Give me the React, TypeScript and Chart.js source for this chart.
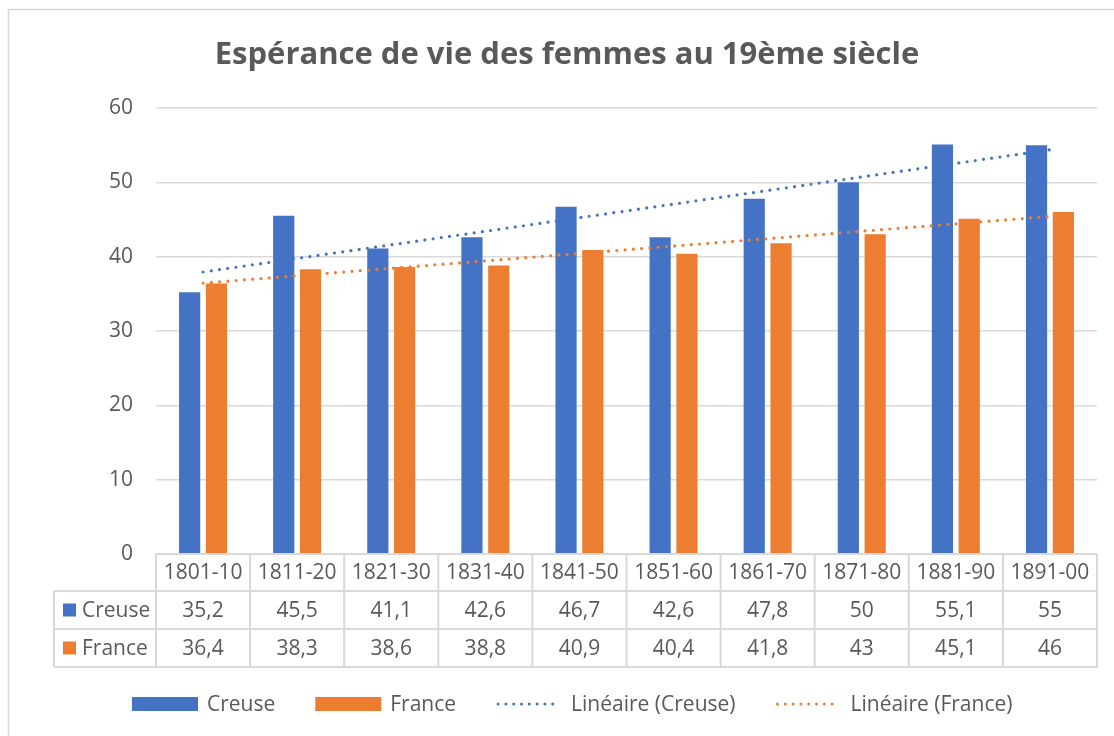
import React, { useEffect, useRef } from 'react';
import { Chart, registerables } from 'chart.js';

Chart.register(...registerables);

const titleText = 'Espérance de vie des femmes au 19ème siècle';
const categories = ['1801-10', '1811-20', '1821-30', '1831-40', '1841-50', '1851-60', '1861-70', '1871-80', '1881-90', '1891-00'];
const creuseValues = [35.2, 45.5, 41.1, 42.6, 46.7, 42.6, 47.8, 50, 55.1, 55];
const franceValues = [36.4, 38.3, 38.6, 38.8, 40.9, 40.4, 41.8, 43, 45.1, 46];
const seriesNames = ['Creuse', 'France'];
const trendNames = ['Linéaire (Creuse)', 'Linéaire (France)'];
const seriesColors = ['#4472C4', '#ED7D31'];
const yMin = 0;
const yMax = 60;
const yStep = 10;

const FONT = '"Open Sans", "Noto Sans", sans-serif';
const TEXT = '#595959';
const LINE = '#d9d9d9';

function linearTrend(values: number[]): number[] {
  const n = values.length;
  const xs = values.map((_, i) => i + 1);
  const mx = xs.reduce((a, b) => a + b, 0) / n;
  const my = values.reduce((a, b) => a + b, 0) / n;
  let sxy = 0;
  let sxx = 0;
  for (let i = 0; i < n; i++) {
    sxy += (xs[i] - mx) * (values[i] - my);
    sxx += (xs[i] - mx) * (xs[i] - mx);
  }
  const slope = sxy / sxx;
  const icpt = my - slope * mx;
  return xs.map((x) => icpt + slope * x);
}

const fmt = (v: number) => String(v).replace('.', ',');

const decorPlugin = {
  id: 'decor',
  afterDraw(chart: any) {
    const ctx = chart.ctx as CanvasRenderingContext2D;
    const area = chart.chartArea;
    const n = categories.length;
    const colW = (area.right - area.left) / n;
    const xScale = chart.scales.x;
    ctx.save();

    // outer border (top + left visible)
    ctx.strokeStyle = LINE;
    ctx.lineWidth = 1.5;
    ctx.beginPath();
    ctx.moveTo(8.5, 736);
    ctx.lineTo(8.5, 9.5);
    ctx.lineTo(1114, 9.5);
    ctx.stroke();

    // title
    ctx.fillStyle = TEXT;
    ctx.font = `bold 31px ${FONT}`;
    ctx.textAlign = 'center';
    ctx.textBaseline = 'alphabetic';
    ctx.fillText(titleText, 567, 64);

    // data table
    const top = area.bottom;
    const r1 = top + 37;
    const r2 = r1 + 38;
    const r3 = r2 + 38;
    const leftEdge = 54;
    ctx.strokeStyle = LINE;
    ctx.lineWidth = 2;
    ctx.beginPath();
    ctx.moveTo(area.left, top);
    ctx.lineTo(area.right, top);
    for (const y of [r1, r2, r3]) {
      ctx.moveTo(leftEdge, y);
      ctx.lineTo(area.right, y);
    }
    ctx.moveTo(leftEdge, r1);
    ctx.lineTo(leftEdge, r3);
    for (let i = 0; i <= n; i++) {
      const x = area.left + i * colW;
      ctx.moveTo(x, top);
      ctx.lineTo(x, r3);
    }
    ctx.stroke();

    ctx.font = `21px ${FONT}`;
    ctx.fillStyle = TEXT;
    ctx.textAlign = 'center';
    ctx.textBaseline = 'middle';
    const rowVals = [creuseValues, franceValues];
    for (let i = 0; i < n; i++) {
      const cx = xScale.getPixelForValue(i);
      ctx.fillText(categories[i], cx, (top + r1) / 2 + 1);
      ctx.fillText(fmt(rowVals[0][i]), cx, (r1 + r2) / 2 + 1);
      ctx.fillText(fmt(rowVals[1][i]), cx, (r2 + r3) / 2 + 1);
    }
    const rowsY = [(r1 + r2) / 2, (r2 + r3) / 2];
    ctx.textAlign = 'left';
    for (let s = 0; s < 2; s++) {
      ctx.fillStyle = seriesColors[s];
      ctx.fillRect(63, rowsY[s] - 6.5, 13, 13);
      ctx.fillStyle = TEXT;
      ctx.fillText(seriesNames[s], 82, rowsY[s] + 1);
    }

    // legend
    const ly = 704;
    ctx.font = `21px ${FONT}`;
    ctx.textBaseline = 'middle';
    let x = 132;
    const items = [
      { kind: 'box', color: seriesColors[0], label: seriesNames[0] },
      { kind: 'box', color: seriesColors[1], label: seriesNames[1] },
      { kind: 'dot', color: seriesColors[0], label: trendNames[0] },
      { kind: 'dot', color: seriesColors[1], label: trendNames[1] },
    ];
    for (const it of items) {
      if (it.kind === 'box') {
        ctx.fillStyle = it.color;
        ctx.fillRect(x, ly - 7, 66, 14);
        x += 66;
      } else {
        ctx.strokeStyle = it.color;
        ctx.lineWidth = 3;
        ctx.lineCap = 'round';
        ctx.setLineDash([0, 7.8]);
        ctx.beginPath();
        ctx.moveTo(x + 2, ly);
        ctx.lineTo(x + 64, ly);
        ctx.stroke();
        ctx.setLineDash([]);
        x += 66;
      }
      x += 9;
      ctx.fillStyle = TEXT;
      ctx.fillText(it.label, x, ly + 1);
      x += ctx.measureText(it.label).width + 40;
    }
    ctx.restore();
  },
};

export default function App() {
  const ref = useRef<HTMLCanvasElement | null>(null);

  useEffect(() => {
    if (!ref.current) return;
    const chart = new Chart(ref.current, {
      type: 'bar',
      data: {
        labels: categories,
        datasets: [
          {
            type: 'line',
            label: trendNames[0],
            data: linearTrend(creuseValues),
            borderColor: seriesColors[0],
            borderWidth: 3.2,
            borderDash: [0, 8.3],
            borderCapStyle: 'round',
            pointRadius: 0,
            fill: false,
            order: 0,
          } as any,
          {
            type: 'line',
            label: trendNames[1],
            data: linearTrend(franceValues),
            borderColor: seriesColors[1],
            borderWidth: 3.2,
            borderDash: [0, 8.3],
            borderCapStyle: 'round',
            pointRadius: 0,
            fill: false,
            order: 0,
          } as any,
          {
            label: seriesNames[0],
            data: creuseValues,
            backgroundColor: seriesColors[0],
            categoryPercentage: 0.57,
            barPercentage: 0.79,
            order: 1,
          },
          {
            label: seriesNames[1],
            data: franceValues,
            backgroundColor: seriesColors[1],
            categoryPercentage: 0.57,
            barPercentage: 0.79,
            order: 1,
          },
        ],
      },
      options: {
        responsive: false,
        animation: false,
        layout: { padding: { left: 0, right: 17, top: 108, bottom: 182 } },
        plugins: {
          legend: { display: false },
          title: { display: false },
          tooltip: { enabled: false },
        },
        scales: {
          x: { display: false },
          y: {
            min: yMin,
            max: yMax,
            ticks: {
              stepSize: yStep,
              padding: 23,
              color: TEXT,
              font: { family: FONT, size: 21 },
            },
            grid: { color: LINE, lineWidth: 1.5, drawTicks: false },
            border: { display: false },
            afterFit: (scale: any) => {
              scale.width = 156;
            },
          },
        },
      },
      plugins: [decorPlugin],
    });
    return () => chart.destroy();
  }, []);

  return (
    <div style={{ position: 'fixed', left: 0, top: 0, width: 1114, height: 736, background: '#fff' }}>
      <canvas ref={ref} width={1114} height={736} style={{ display: 'block' }} />
    </div>
  );
}
